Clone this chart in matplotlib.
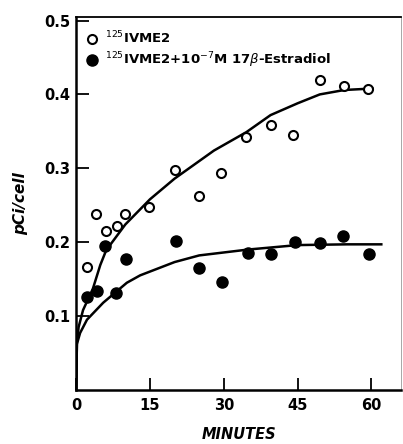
import matplotlib.pyplot as plt
import numpy as np

# open circles: 125I-VME2 alone
t_open = [2.2, 4.0, 6.1, 8.2, 9.9, 14.7, 20.0, 24.9, 29.4, 34.6, 39.5, 44.0, 49.5, 54.5, 59.2]
y_open = [0.166, 0.238, 0.215, 0.222, 0.238, 0.248, 0.297, 0.262, 0.294,
          0.343, 0.359, 0.345, 0.419, 0.412, 0.408]

# filled circles: + 10^-7 M estradiol
t_fill = [2.2, 4.2, 5.9, 8.1, 10.1, 20.2, 24.9, 29.6, 35.0, 39.5, 44.5, 49.6, 54.3, 59.4]
y_fill = [0.126, 0.134, 0.195, 0.131, 0.177, 0.201, 0.165, 0.146, 0.185,
          0.184, 0.200, 0.199, 0.208, 0.184]

# hand drawn fit curves
t_up = [0, 0.15, 0.5, 1.4, 3.4, 4.9, 6.1, 10, 15, 20, 28, 34.6, 39.5, 45, 49.5, 54.5, 60.2]
y_up = [0, 0.064, 0.085, 0.108, 0.137, 0.169, 0.189, 0.224, 0.258, 0.286, 0.324,
        0.349, 0.372, 0.388, 0.400, 0.406, 0.408]
t_lo = [0, 0.15, 0.8, 2.2, 5.5, 10.3, 13, 20, 25, 35, 45, 55, 62]
y_lo = [0, 0.062, 0.077, 0.095, 0.118, 0.145, 0.155, 0.173, 0.182, 0.190, 0.196, 0.197, 0.197]

fig = plt.figure(figsize=(4.03, 4.44), dpi=100)
ax = fig.add_axes([0.189, 0.122, 0.806, 0.84])

ax.plot(t_up, y_up, color='black', lw=1.8, zorder=2)
ax.plot(t_lo, y_lo, color='black', lw=1.8, zorder=2)
ax.plot(t_open, y_open, 'o', mfc='white', mec='black', mew=1.5, ms=6.5,
        label='$^{125}$IVME2', zorder=3)
ax.plot(t_fill, y_fill, 'o', color='black', ms=8,
        label='$^{125}$IVME2+10$^{-7}$M 17$\\beta$-Estradiol', zorder=3)

ax.set_xlim(0, 66)
ax.set_ylim(0, 0.505)
ax.set_xticks([0, 15, 30, 45, 60])
ax.set_yticks([0.1, 0.2, 0.3, 0.4, 0.5])
ax.set_yticklabels(['0.1', '0.2', '0.3', '0.4', '0.5'])
ax.tick_params(direction='in', length=9, width=1.3, labelsize=10.5)
ax.tick_params(axis='x', pad=6)
ax.tick_params(axis='y', pad=4)
for lab in ax.get_xticklabels() + ax.get_yticklabels():
    lab.set_fontweight('bold')

for s in ['left', 'bottom']:
    ax.spines[s].set_linewidth(1.8)
ax.spines['top'].set_linewidth(1.3)
ax.spines['right'].set_linewidth(0.6)
ax.spines['right'].set_color('#999999')

ax.set_xlabel('MINUTES', fontsize=10.5, fontweight='bold', style='italic', labelpad=10)
ax.set_ylabel('pCi/cell', fontsize=11, fontweight='bold', style='italic', labelpad=12)

leg = ax.legend(loc='upper left', bbox_to_anchor=(0.0, 0.99), frameon=False,
                handlelength=1.0, handletextpad=0.5, fontsize=9.5,
                labelspacing=0.3, borderaxespad=0.3)
for txt in leg.get_texts():
    txt.set_fontweight('bold')

fig.savefig('out.png', dpi=100)
